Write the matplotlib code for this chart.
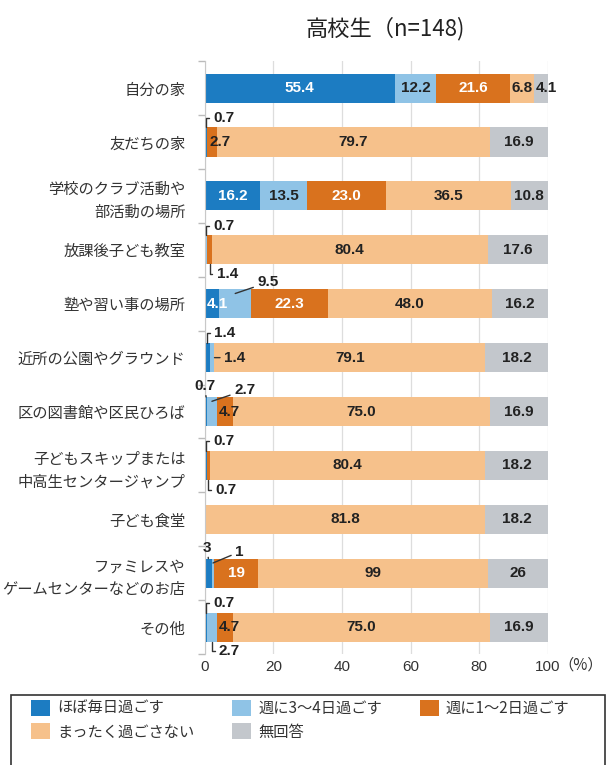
import numpy as np
import matplotlib.pyplot as plt
from matplotlib.patches import Rectangle

plt.rcParams['font.family'] = ['Noto Sans CJK JP', 'DejaVu Sans']

title = '高校生（n=148)'
categories = ['自分の家', '友だちの家', '学校のクラブ活動や\n部活動の場所', '放課後子ども教室',
              '塾や習い事の場所', '近所の公園やグラウンド', '区の図書館や区民ひろば',
              '子どもスキップまたは\n中高生センタージャンプ', '子ども食堂',
              'ファミレスや\nゲームセンターなどのお店', 'その他']
series_names = ['ほぼ毎日過ごす', '週に3～4日過ごす', '週に1～2日過ごす', 'まったく過ごさない', '無回答']

# % per row (the ファミレス row is printed as counts, n=148)
daily = [55.4, 0.7, 16.2, 0.0, 4.1, 1.4, 0.7, 0.7, 0.0, 3, 0.7]
days34 = [12.2, 0.0, 13.5, 0.7, 9.5, 1.4, 2.7, 0.0, 0.0, 1, 2.7]
days12 = [21.6, 2.7, 23.0, 1.4, 22.3, 0.0, 4.7, 0.7, 0.0, 19, 4.7]
never = [6.8, 79.7, 36.5, 80.4, 48.0, 79.1, 75.0, 80.4, 81.8, 99, 75.0]
no_answer = [4.1, 16.9, 10.8, 17.6, 16.2, 18.2, 16.9, 18.2, 18.2, 26, 16.9]
xticks = [0, 20, 40, 60, 80, 100]

colors = ['#1c7cc2', '#8fc3e6', '#d9721e', '#f6c18b', '#c3c7cc']
txt_dark = '#222222'

# how to put the label of thin segments: (row, series) -> style
callouts = {
    (0, 4): 'left',
    (1, 0): 'up', (1, 2): 'left',
    (3, 1): 'up', (3, 2): 'down',
    (4, 0): 'left_w', (4, 1): 'diag',
    (5, 0): 'up', (5, 1): 'dash',
    (6, 0): 'upc', (6, 1): 'diag', (6, 2): 'left',
    (7, 0): 'up', (7, 2): 'down',
    (9, 0): 'upc', (9, 1): 'diag',
    (10, 0): 'up', (10, 1): 'down', (10, 2): 'left',
}

values = np.array([daily, days34, days12, never, no_answer], dtype=float).T
shares = values / values.sum(axis=1, keepdims=True) * 100
lefts = np.cumsum(shares, axis=1) - shares

fig = plt.figure(figsize=(6.08, 7.65), dpi=100)
ax = fig.add_axes([0.337, 0.145, 0.564, 0.775])

y = np.arange(len(categories))
h = 0.54
bars = []
for j in range(len(series_names)):
    b = ax.barh(y, shares[:, j], left=lefts[:, j], height=h, color=colors[j],
                label=series_names[j], zorder=2)
    bars.append(b)

lab = dict(fontsize=11, fontweight='bold', family='Liberation Sans', zorder=4)
line = dict(arrowstyle='-', color='#333333', lw=1, shrinkA=1, shrinkB=0)

for i in range(len(categories)):
    counts = values[i].sum() > 101
    for j in range(len(series_names)):
        v = values[i, j]
        if v == 0:
            continue
        txt = f'{v:.0f}' if counts else f'{v:.1f}'
        x0, w = lefts[i, j], shares[i, j]
        style = callouts.get((i, j), 'center')
        if style == 'center':
            c = 'white' if j in (0, 2) else txt_dark
            ax.text(x0 + w / 2, i, txt, ha='center', va='center', color=c, **lab)
        elif style in ('left', 'left_w'):
            c = 'white' if style == 'left_w' else txt_dark
            ax.annotate(txt, (x0, i), xytext=(1.5, 0), textcoords='offset points',
                        ha='left', va='center', color=c, annotation_clip=False, **lab)
        elif style in ('up', 'down'):
            sgn = 1 if style == 'up' else -1
            ax.annotate(txt, (x0 + w / 2, i - sgn * h / 2), xytext=(5, sgn * 7),
                        textcoords='offset points', ha='left', va='center', color=txt_dark,
                        arrowprops=dict(connectionstyle='angle,angleA=0,angleB=90,rad=0', **line),
                        **lab)
        elif style == 'upc':
            ax.annotate(txt, (x0 + w / 2, i - h / 2), xytext=(-1, 8),
                        textcoords='offset points', ha='center', va='center', color=txt_dark,
                        arrowprops=line, **lab)
        elif style == 'diag':
            ax.annotate(txt, (x0 + w / 2, i - h / 2 + 0.08), xytext=(16, 8),
                        textcoords='offset points', ha='left', va='center', color=txt_dark,
                        arrowprops=line, **lab)
        elif style == 'dash':
            ax.annotate(txt, (x0 + w, i), xytext=(7, 0),
                        textcoords='offset points', ha='left', va='center', color=txt_dark,
                        arrowprops=line, **lab)

ax.set_xlim(0, 100)
ax.set_ylim(len(categories) - 0.5, -0.5)
ax.set_xticks(xticks)
ax.set_xticklabels([str(t) for t in xticks], family='Liberation Sans')
ax.tick_params(axis='x', length=0, labelsize=11, labelcolor='#333333', pad=4)
ax.set_yticks(y)
ax.set_yticklabels(categories, fontsize=11, color='#333333', linespacing=1.45)
ax.tick_params(axis='y', which='major', length=0, pad=14)
ax.set_yticks(np.arange(-0.5, len(categories), 1), minor=True)
ax.tick_params(axis='y', which='minor', length=5, color='#bbbbbb', width=1)
ax.grid(axis='x', color='#dddddd', lw=0.9, zorder=0)
ax.set_axisbelow(True)
for s in ['top', 'right', 'bottom']:
    ax.spines[s].set_visible(False)
ax.spines['left'].set_color('#c8c8c8')

fig.text(0.919, 1 - 665 / 765, '（%）', ha='left', va='center', fontsize=11, color='#333333')
fig.text(0.634, 0.963, title, ha='center', va='center', fontsize=16, color=txt_dark)

# legend: frame drawn separately so the inner padding can differ per side
order = [0, 3, 1, 4, 2]
fig.legend([bars[k] for k in order], [series_names[k] for k in order],
           loc='upper left', bbox_to_anchor=(31 / 608, 1 - 700 / 765),
           ncol=3, fontsize=11, frameon=False, borderpad=0, borderaxespad=0,
           handlelength=1.24, handleheight=1.24, handletextpad=0.45,
           labelspacing=0.4, columnspacing=2.5, labelcolor='#333333')
fig.add_artist(Rectangle((11 / 608, -0.01), 594 / 608, 1 - 695 / 765 + 0.01,
                         transform=fig.transFigure, fill=False, ec='#333333', lw=1.2))

fig.savefig('out.png', dpi=100)
